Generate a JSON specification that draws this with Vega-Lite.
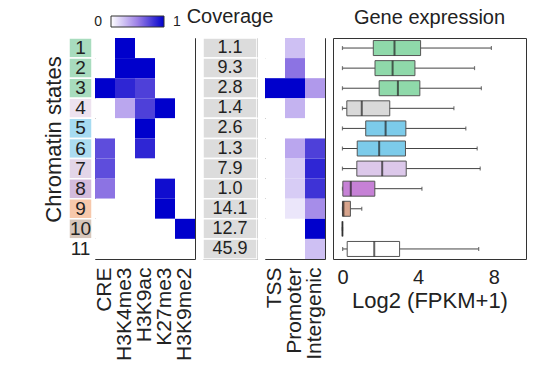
{
  "$schema": "https://vega.github.io/schema/vega-lite/v6.json",
  "padding": {"left": 42, "top": 6, "right": 5, "bottom": 5},
  "background": "white",
  "config": {"font": "Liberation Sans", "view": {"stroke": "#333", "strokeWidth": 1}, "axis": {"grid": false}},
  "datasets": {
    "genes": [
      {"state": 1, "coverage": 1.1, "lower": 0, "q1": 1.63, "median": 2.75, "q3": 4.13, "upper": 7.87},
      {"state": 2, "coverage": 9.3, "lower": 0, "q1": 1.72, "median": 2.65, "q3": 3.83, "upper": 6.98},
      {"state": 3, "coverage": 2.8, "lower": 0, "q1": 1.94, "median": 2.93, "q3": 4.09, "upper": 7.34},
      {"state": 4, "coverage": 1.4, "lower": 0, "q1": 0.23, "median": 1.02, "q3": 2.5, "upper": 5.89},
      {"state": 5, "coverage": 2.6, "lower": 0, "q1": 1.23, "median": 2.28, "q3": 3.35, "upper": 6.52},
      {"state": 6, "coverage": 1.3, "lower": 0, "q1": 0.78, "median": 1.94, "q3": 3.33, "upper": 7.12},
      {"state": 7, "coverage": 7.9, "lower": 0, "q1": 0.76, "median": 2.1, "q3": 3.37, "upper": 7.28},
      {"state": 8, "coverage": 1.0, "lower": 0, "q1": 0.02, "median": 0.44, "q3": 1.71, "upper": 4.2},
      {"state": 9, "coverage": 14.1, "lower": 0, "q1": 0, "median": 0.05, "q3": 0.42, "upper": 1.02},
      {"state": 10, "coverage": 12.7, "lower": 0, "q1": 0, "median": 0, "q3": 0, "upper": 0},
      {"state": 11, "coverage": 45.9, "lower": 0.01, "q1": 0.25, "median": 1.68, "q3": 3.02, "upper": 7.2}
    ],
    "marks": [
      {"state": 1, "mark": "CRE", "value": 0}, {"state": 1, "mark": "H3K4me3", "value": 1}, {"state": 1, "mark": "H3K9ac", "value": 0}, {"state": 1, "mark": "K27me3", "value": 0}, {"state": 1, "mark": "H3K9me2", "value": 0},
      {"state": 2, "mark": "CRE", "value": 0}, {"state": 2, "mark": "H3K4me3", "value": 1}, {"state": 2, "mark": "H3K9ac", "value": 1}, {"state": 2, "mark": "K27me3", "value": 0}, {"state": 2, "mark": "H3K9me2", "value": 0},
      {"state": 3, "mark": "CRE", "value": 1}, {"state": 3, "mark": "H3K4me3", "value": 0.85}, {"state": 3, "mark": "H3K9ac", "value": 0.75}, {"state": 3, "mark": "K27me3", "value": 0}, {"state": 3, "mark": "H3K9me2", "value": 0},
      {"state": 4, "mark": "CRE", "value": 0}, {"state": 4, "mark": "H3K4me3", "value": 0.35}, {"state": 4, "mark": "H3K9ac", "value": 0.75}, {"state": 4, "mark": "K27me3", "value": 1}, {"state": 4, "mark": "H3K9me2", "value": 0},
      {"state": 5, "mark": "CRE", "value": 0}, {"state": 5, "mark": "H3K4me3", "value": 0}, {"state": 5, "mark": "H3K9ac", "value": 1}, {"state": 5, "mark": "K27me3", "value": 0}, {"state": 5, "mark": "H3K9me2", "value": 0},
      {"state": 6, "mark": "CRE", "value": 0.7}, {"state": 6, "mark": "H3K4me3", "value": 0}, {"state": 6, "mark": "H3K9ac", "value": 0.85}, {"state": 6, "mark": "K27me3", "value": 0}, {"state": 6, "mark": "H3K9me2", "value": 0},
      {"state": 7, "mark": "CRE", "value": 0.7}, {"state": 7, "mark": "H3K4me3", "value": 0}, {"state": 7, "mark": "H3K9ac", "value": 0}, {"state": 7, "mark": "K27me3", "value": 0}, {"state": 7, "mark": "H3K9me2", "value": 0},
      {"state": 8, "mark": "CRE", "value": 0.55}, {"state": 8, "mark": "H3K4me3", "value": 0}, {"state": 8, "mark": "H3K9ac", "value": 0}, {"state": 8, "mark": "K27me3", "value": 0.95}, {"state": 8, "mark": "H3K9me2", "value": 0},
      {"state": 9, "mark": "CRE", "value": 0}, {"state": 9, "mark": "H3K4me3", "value": 0}, {"state": 9, "mark": "H3K9ac", "value": 0}, {"state": 9, "mark": "K27me3", "value": 1}, {"state": 9, "mark": "H3K9me2", "value": 0},
      {"state": 10, "mark": "CRE", "value": 0}, {"state": 10, "mark": "H3K4me3", "value": 0}, {"state": 10, "mark": "H3K9ac", "value": 0}, {"state": 10, "mark": "K27me3", "value": 0}, {"state": 10, "mark": "H3K9me2", "value": 1},
      {"state": 11, "mark": "CRE", "value": 0}, {"state": 11, "mark": "H3K4me3", "value": 0}, {"state": 11, "mark": "H3K9ac", "value": 0}, {"state": 11, "mark": "K27me3", "value": 0}, {"state": 11, "mark": "H3K9me2", "value": 0}
    ],
    "regions": [
      {"state": 1, "region": "TSS", "value": 0}, {"state": 1, "region": "Promoter", "value": 0.25}, {"state": 1, "region": "Intergenic", "value": 0},
      {"state": 2, "region": "TSS", "value": 0}, {"state": 2, "region": "Promoter", "value": 0.55}, {"state": 2, "region": "Intergenic", "value": 0},
      {"state": 3, "region": "TSS", "value": 1}, {"state": 3, "region": "Promoter", "value": 1}, {"state": 3, "region": "Intergenic", "value": 0.4},
      {"state": 4, "region": "TSS", "value": 0}, {"state": 4, "region": "Promoter", "value": 0.3}, {"state": 4, "region": "Intergenic", "value": 0},
      {"state": 5, "region": "TSS", "value": 0}, {"state": 5, "region": "Promoter", "value": 0}, {"state": 5, "region": "Intergenic", "value": 0},
      {"state": 6, "region": "TSS", "value": 0}, {"state": 6, "region": "Promoter", "value": 0.35}, {"state": 6, "region": "Intergenic", "value": 0.75},
      {"state": 7, "region": "TSS", "value": 0}, {"state": 7, "region": "Promoter", "value": 0.2}, {"state": 7, "region": "Intergenic", "value": 0.85},
      {"state": 8, "region": "TSS", "value": 0}, {"state": 8, "region": "Promoter", "value": 0.2}, {"state": 8, "region": "Intergenic", "value": 0.8},
      {"state": 9, "region": "TSS", "value": 0}, {"state": 9, "region": "Promoter", "value": 0.1}, {"state": 9, "region": "Intergenic", "value": 0.45},
      {"state": 10, "region": "TSS", "value": 0}, {"state": 10, "region": "Promoter", "value": 0}, {"state": 10, "region": "Intergenic", "value": 1},
      {"state": 11, "region": "TSS", "value": 0}, {"state": 11, "region": "Promoter", "value": 0}, {"state": 11, "region": "Intergenic", "value": 0.25}
    ]
  },
  "resolve": {"scale": {"color": "independent", "fill": "independent"}, "legend": {"color": "independent", "fill": "independent"}},
  "spacing": 3,
  "bounds": "flush",
  "hconcat": [
    {
      "data": {"name": "genes"},
      "width": 23,
      "height": 221,
      "view": {"stroke": null},
      "encoding": {
        "y": {"field": "state", "type": "ordinal", "scale": {"paddingInner": 0, "paddingOuter": 0},
          "axis": {"title": "Chromatin states", "titleFontSize": 22, "titleFontWeight": "normal", "titleColor": "#222", "labels": false, "ticks": false, "domain": false, "titlePadding": 4, "titleY": 101, "titleAlign": "center"}}
      },
      "layer": [
        {"mark": {"type": "rect", "stroke": "white", "strokeWidth": 1.5},
          "encoding": {"fill": {"field": "state", "type": "ordinal", "legend": null,
            "scale": {"domain": [1, 2, 3, 4, 5, 6, 7, 8, 9, 10, 11], "range": ["#a8dcbe", "#a8dcbe", "#a8dcbe", "#ede2ef", "#a6dbf1", "#acdcf0", "#e3d5e8", "#d3bbdc", "#f7c8ab", "#d6c6bb", "#ffffff"]}}}},
        {"mark": {"type": "text", "fontSize": 19, "color": "#222"},
          "encoding": {"text": {"field": "state", "type": "ordinal"}}}
      ]
    },
    {
      "spacing": 8,
      "bounds": "flush",
      "resolve": {"scale": {"color": "independent", "fill": "independent"}, "legend": {"color": "independent", "fill": "independent"}},
      "hconcat": [
        {
          "data": {"name": "marks"},
          "width": 100,
          "height": 221,
          "mark": {"type": "rect"},
          "encoding": {
            "y": {"field": "state", "type": "ordinal", "scale": {"paddingInner": 0, "paddingOuter": 0}, "axis": null},
            "x": {"field": "mark", "type": "nominal", "sort": ["CRE", "H3K4me3", "H3K9ac", "K27me3", "H3K9me2"], "scale": {"paddingInner": 0, "paddingOuter": 0},
              "axis": {"title": null, "labelAngle": -90, "labelAlign": "right", "labelBaseline": "middle", "labelFontSize": 21, "labelColor": "#222", "ticks": false, "domain": false, "labelPadding": 8}},
            "color": {"field": "value", "type": "quantitative",
              "scale": {"domain": [0, 0.5, 1], "range": ["#ffffff", "#9c80e6", "#0000cc"], "interpolate": "rgb"},
              "legend": {"orient": "none", "legendX": 16, "legendY": -22, "direction": "horizontal", "gradientLength": 53, "gradientThickness": 11, "title": null, "values": [0, 1], "format": ".0f",
                "labelFontSize": 14, "labelColor": "#222", "labelOffset": -5.5,
                "gradientStrokeColor": "#333", "gradientStrokeWidth": 1,
                "encoding": {"labels": {
                  "align": {"value": {"expr": "datum.value < 0.5 ? 'right' : 'left'"}},
                  "baseline": {"value": "middle"},
                  "dx": {"value": {"expr": "datum.value < 0.5 ? -9 : 9"}}
                }}}}
          }
        },
        {
          "data": {"name": "genes"},
          "width": 54,
          "height": 221,
          "title": {"text": "Coverage", "fontSize": 20, "fontWeight": "normal", "color": "#222", "anchor": "middle", "offset": 10},
          "view": {"stroke": "#555"},
          "encoding": {
            "y": {"field": "state", "type": "ordinal", "scale": {"paddingInner": 0, "paddingOuter": 0}, "axis": null}
          },
          "layer": [
            {"mark": {"type": "rect", "fill": "#dcdcdc", "stroke": "white", "strokeWidth": 1.5}},
            {"mark": {"type": "text", "fontSize": 18, "color": "#222"},
              "encoding": {"text": {"field": "coverage", "type": "quantitative", "format": ".1f"}}}
          ]
        },
        {
          "data": {"name": "regions"},
          "width": 60,
          "height": 221,
          "mark": {"type": "rect"},
          "encoding": {
            "y": {"field": "state", "type": "ordinal", "scale": {"paddingInner": 0, "paddingOuter": 0}, "axis": null},
            "x": {"field": "region", "type": "nominal", "sort": ["TSS", "Promoter", "Intergenic"], "scale": {"paddingInner": 0, "paddingOuter": 0},
              "axis": {"title": null, "labelAngle": -90, "labelAlign": "right", "labelBaseline": "middle", "labelFontSize": 21, "labelColor": "#222", "ticks": false, "domain": false, "labelPadding": 8}},
            "color": {"field": "value", "type": "quantitative",
              "scale": {"domain": [0, 0.5, 1], "range": ["#ffffff", "#9c80e6", "#0000cc"], "interpolate": "rgb"}, "legend": null}
          }
        },
        {
          "data": {"name": "genes"},
          "width": 193,
          "height": 221,
          "title": {"text": "Gene expression", "fontSize": 20, "fontWeight": "normal", "color": "#222", "anchor": "middle", "offset": 10},
          "encoding": {
            "y": {"field": "state", "type": "ordinal", "scale": {"paddingInner": 0, "paddingOuter": 0}, "axis": null}
          },
          "layer": [
            {"mark": {"type": "rule", "color": "#444", "strokeWidth": 1},
              "encoding": {
                "x": {"field": "lower", "type": "quantitative", "scale": {"domain": [-0.5, 9.7], "nice": false, "zero": false},
                  "axis": {"values": [0, 4, 8], "title": "Log2 (FPKM+1)", "titleFontSize": 22, "titleFontWeight": "normal", "titleColor": "#222", "labelFontSize": 20, "labelColor": "#222", "ticks": false, "domain": false, "grid": false, "labelPadding": 8, "titlePadding": 3}},
                "x2": {"field": "upper"}}},
            {"mark": {"type": "tick", "color": "#444", "thickness": 1.2, "size": 4},
              "encoding": {"x": {"field": "lower", "type": "quantitative"}}},
            {"mark": {"type": "tick", "color": "#444", "thickness": 1.2, "size": 4},
              "encoding": {"x": {"field": "upper", "type": "quantitative"}}},
            {"mark": {"type": "bar", "size": 15, "stroke": "#555", "strokeWidth": 1},
              "encoding": {
                "x": {"field": "q1", "type": "quantitative"},
                "x2": {"field": "q3"},
                "fill": {"field": "state", "type": "ordinal", "legend": null,
                  "scale": {"domain": [1, 2, 3, 4, 5, 6, 7, 8, 9, 10, 11], "range": ["#8fd9aa", "#8fd9aa", "#8fd9aa", "#d9d9d9", "#7ccbea", "#7ccbea", "#dcc8ea", "#c681d6", "#d8a48c", "#333333", "#ffffff"]}}}},
            {"mark": {"type": "tick", "color": "#222", "thickness": 2, "size": 15},
              "encoding": {"x": {"field": "median", "type": "quantitative"}}}
          ]
        }
      ]
    }
  ]
}
